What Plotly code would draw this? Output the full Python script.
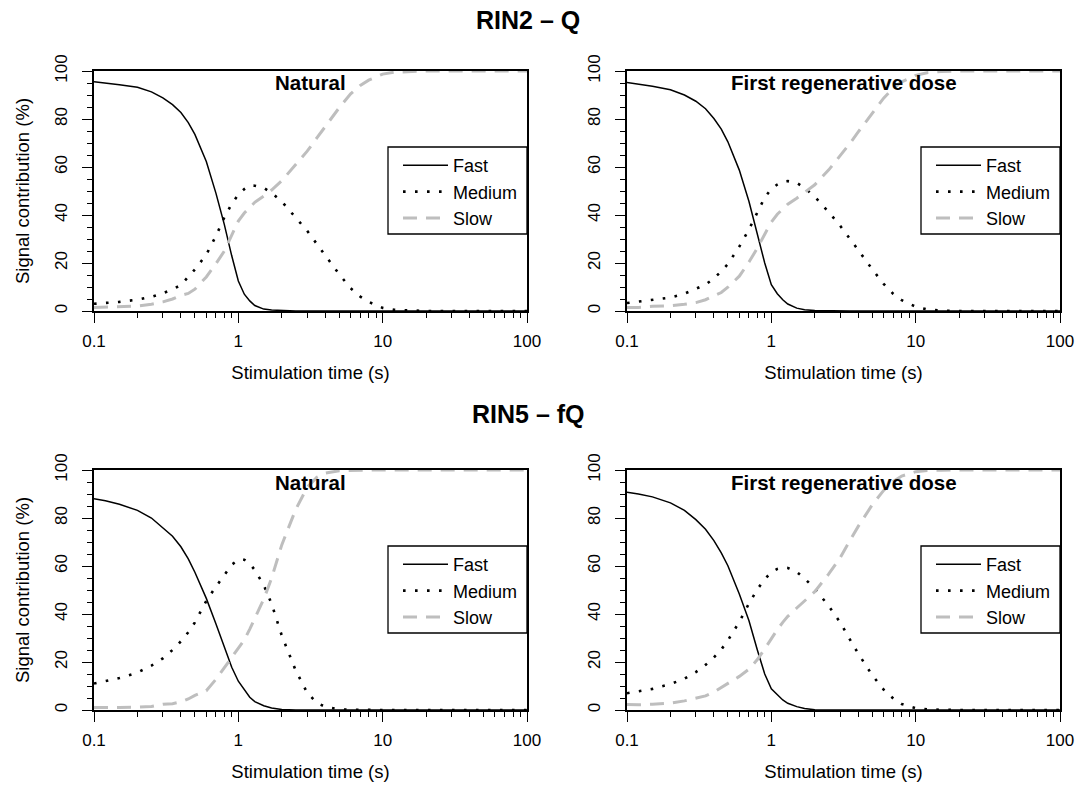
import plotly.graph_objects as go

# ---------------- data ----------------
t = [0.1, 0.12, 0.15, 0.2, 0.25, 0.3, 0.35, 0.4, 0.45, 0.5, 0.6, 0.7, 0.8, 0.9,
     1.0, 1.1, 1.2, 1.3, 1.5, 1.7, 2.0, 2.5, 3.0, 3.5, 4.0, 5.0, 6.0, 7.0, 8.0, 10, 12, 15, 20, 50, 100]

# RIN2 - Q, Natural
q_nat_fast = [95.5, 95.0, 94.3, 93.2, 91.3, 88.8, 86.0, 82.7, 78.5, 73.6, 62.3, 49.0, 36.0, 23.0,
              12.5, 7.0, 4.2, 2.3, 0.8, 0.4, 0.1, 0, 0, 0, 0, 0, 0, 0, 0, 0, 0, 0, 0, 0, 0]
q_nat_med = [3.0, 3.3, 3.8, 4.7, 5.9, 7.4, 9.0, 10.8, 14.2, 17.3, 23.5, 31.3, 39.0, 44.7,
             48.5, 50.8, 52.3, 52.2, 51.3, 49.2, 45.6, 39.0, 33.4, 27.9, 23.2, 15.3, 9.5, 6.0, 3.8, 1.3, 0.5, 0.15, 0, 0, 0]
q_nat_slow = [1.5, 1.7, 1.9, 2.1, 2.8, 3.8, 5.0, 6.5, 7.3, 9.1, 14.2, 19.7, 25.0, 31.8,
              37.5, 40.8, 43.3, 45.3, 47.9, 50.4, 54.3, 61.0, 66.6, 72.1, 76.8, 84.7, 90.5, 94.0, 96.2, 98.7, 99.5, 99.85, 100, 100, 100]

# RIN2 - Q, First regenerative dose
q_reg_fast = [95.2, 94.6, 93.6, 92.2, 90.0, 87.4, 84.3, 80.2, 75.8, 70.5, 58.7, 45.6, 32.4, 20.0,
              11.0, 7.2, 4.7, 2.9, 1.2, 0.5, 0.2, 0, 0, 0, 0, 0, 0, 0, 0, 0, 0, 0, 0, 0, 0]
q_reg_med = [3.3, 3.9, 4.4, 5.6, 7.2, 9.1, 11.0, 13.6, 16.5, 19.6, 26.8, 34.0, 41.4, 47.3,
             50.9, 52.7, 53.9, 54.1, 53.4, 51.3, 47.6, 41.2, 35.5, 30.2, 25.4, 17.4, 11.3, 7.1, 4.5, 1.8, 0.7, 0.2, 0, 0, 0]
q_reg_slow = [1.5, 1.5, 2.0, 2.2, 2.8, 3.5, 4.7, 6.2, 7.7, 9.9, 14.5, 20.4, 26.2, 32.0,
              37.0, 40.3, 42.6, 44.5, 47.0, 49.3, 52.6, 58.8, 64.5, 69.8, 74.6, 82.6, 88.7, 92.9, 95.5, 98.2, 99.3, 99.8, 100, 100, 100]

# RIN5 - fQ, Natural
fq_nat_fast = [88.0, 87.2, 85.7, 83.2, 80.0, 76.1, 72.4, 68.0, 63.0, 57.4, 46.5, 35.8, 26.1, 17.8,
               12.0, 8.2, 5.3, 3.5, 1.8, 0.8, 0.2, 0, 0, 0, 0, 0, 0, 0, 0, 0, 0, 0, 0, 0, 0]
fq_nat_med = [11.0, 11.9, 13.3, 15.6, 18.5, 21.5, 25.0, 28.6, 32.4, 36.5, 45.5, 51.4, 56.3, 60.5,
              62.6, 62.6, 61.0, 58.3, 52.0, 44.3, 31.0, 16.4, 7.2, 3.0, 1.3, 0.3, 0.1, 0, 0, 0, 0, 0, 0, 0, 0]
fq_nat_slow = [1.0, 0.9, 1.0, 1.2, 1.5, 2.4, 2.6, 3.4, 4.6, 6.1, 8.0, 12.8, 17.6, 21.7,
               25.4, 29.2, 33.7, 38.2, 46.2, 54.9, 68.8, 83.6, 92.8, 97.0, 98.7, 99.7, 99.9, 100, 100, 100, 100, 100, 100, 100, 100]

# RIN5 - fQ, First regenerative dose
fq_reg_fast = [90.7, 90.0, 88.8, 86.3, 83.2, 79.3, 75.3, 70.6, 65.5, 60.1, 48.3, 37.2, 25.0, 15.0,
               8.8, 6.2, 4.2, 2.8, 1.4, 0.6, 0.1, 0, 0, 0, 0, 0, 0, 0, 0, 0, 0, 0, 0, 0, 0]
fq_reg_med = [7.0, 7.8, 8.8, 10.8, 13.0, 15.8, 18.8, 21.9, 25.2, 29.0, 36.7, 44.4, 50.3, 54.5,
              57.4, 58.8, 59.4, 59.2, 57.5, 54.8, 50.6, 43.3, 36.5, 29.4, 23.5, 14.5, 8.5, 4.8, 2.5, 0.7, 0.25, 0.1, 0, 0, 0]
fq_reg_slow = [2.3, 2.2, 2.4, 2.9, 3.8, 4.9, 5.9, 7.5, 9.3, 10.9, 14.0, 17.0, 21.0, 25.5,
               30.0, 33.5, 36.5, 39.0, 42.5, 45.5, 49.3, 56.7, 63.5, 70.6, 76.5, 85.5, 91.5, 95.2, 97.5, 99.3, 99.75, 99.9, 100, 100, 100]

series_names = ["Fast", "Medium", "Slow"]
panel_titles = ["Natural", "First regenerative dose", "Natural", "First regenerative dose"]
main_titles = ["RIN2 – Q", "RIN5 – fQ"]
x_tickvals = [0.1, 1, 10, 100]
x_ticktext = ["0.1", "1", "10", "100"]
y_tickvals = [0, 20, 40, 60, 80, 100]
x_title = "Stimulation time (s)"
y_title = "Signal contribution (%)"

panels = [
    (q_nat_fast, q_nat_med, q_nat_slow),
    (q_reg_fast, q_reg_med, q_reg_slow),
    (fq_nat_fast, fq_nat_med, fq_nat_slow),
    (fq_reg_fast, fq_reg_med, fq_reg_slow),
]

# ---------------- layout geometry ----------------
W, H = 1076, 788
FONT = "Liberation Sans, Arial, Helvetica, sans-serif"

def px(x):
    return x / W

def py(y):
    return 1 - y / H

col_px = [(94, 527), (627, 1060)]
row_px = [(71, 311), (470, 710)]

styles = [
    dict(color="black", width=1.5, dash="solid"),
    dict(color="black", width=2.6, dash="2.6px,9.4px"),
    dict(color="#BEBEBE", width=3, dash="14px,9px"),
]

fig = go.Figure()
minor_x = [v * d for d in (0.1, 1, 10) for v in range(2, 10)]

for i, data in enumerate(panels):
    r, c = divmod(i, 2)
    n = i + 1
    xa = "x" if n == 1 else f"x{n}"
    ya = "y" if n == 1 else f"y{n}"
    lg = "legend" if n == 1 else f"legend{n}"
    for name, vals, st in zip(series_names, data, styles):
        fig.add_trace(go.Scatter(
            x=t, y=vals, mode="lines", name=name, line=st,
            xaxis=xa, yaxis=ya, legend=lg, showlegend=True,
            hoverinfo="skip",
        ))
    x0, x1 = col_px[c]
    y0, y1 = row_px[r]
    xkey = "xaxis" if n == 1 else f"xaxis{n}"
    ykey = "yaxis" if n == 1 else f"yaxis{n}"
    fig.layout[xkey] = dict(
        type="log", range=[-1, 2], domain=[px(x0), px(x1)], anchor=ya,
        automargin=False,
        showline=True, mirror=True, linecolor="black", linewidth=1.5,
        ticks="outside", ticklen=10, tickwidth=1.3, tickcolor="black",
        tickmode="array", tickvals=x_tickvals, ticktext=x_ticktext,
        ticklabelstandoff=4,
        minor=dict(ticks="outside", ticklen=5, tickwidth=1.3, tickcolor="black",
                   tickmode="array", tickvals=minor_x),
        showgrid=False, zeroline=False,
        tickfont=dict(family=FONT, size=17, color="black"),
        title=dict(text=x_title, font=dict(family=FONT, size=18.5, color="black"), standoff=16),
    )
    fig.layout[ykey] = dict(
        range=[0, 100], domain=[py(y1), py(y0)], anchor=xa,
        automargin=False,
        showline=True, mirror=True, linecolor="black", linewidth=1.5,
        ticks="outside", ticklen=10, tickwidth=1.3, tickcolor="black",
        tickmode="array", tickvals=y_tickvals, tickangle=-90,
        ticklabelstandoff=8,
        minor=dict(ticks="outside", ticklen=5, tickwidth=1.3, tickcolor="black", dtick=5),
        showgrid=False, zeroline=False,
        tickfont=dict(family=FONT, size=17, color="black"),
        title=dict(text=y_title if c == 0 else "",
                   font=dict(family=FONT, size=18.5, color="black"), standoff=18),
    )
    # legend box (frame drawn as a shape, entries by the native legend)
    lx0, lx1 = x1 - 139, x1
    ly0, ly1 = y0 + 76, y0 + 163
    fig.add_shape(type="rect", xref="paper", yref="paper",
                  x0=px(lx0), x1=px(lx1), y0=py(ly1), y1=py(ly0),
                  line=dict(color="black", width=1.3), fillcolor="rgba(0,0,0,0)",
                  layer="above")
    fig.layout[lg] = dict(
        x=px(lx0 + 10), y=py(ly0), xanchor="left", yanchor="top",
        bgcolor="rgba(0,0,0,0)", borderwidth=0,
        font=dict(family=FONT, size=18, color="black"),
        itemwidth=45, tracegroupgap=0,
    )
    fig.add_annotation(
        x=(px(x0) + px(x1)) / 2, y=py(y0 + 12), xref="paper", yref="paper",
        text=f"<b>{panel_titles[i]}</b>", showarrow=False,
        font=dict(family=FONT, size=20.5, color="black"),
        xanchor="center", yanchor="middle",
    )

for r, txt in enumerate(main_titles):
    fig.add_annotation(
        x=px(528), y=py([20, 414][r]), xref="paper", yref="paper",
        text=f"<b>{txt}</b>", showarrow=False,
        font=dict(family=FONT, size=25, color="black"),
        xanchor="center", yanchor="middle",
    )

fig.update_layout(
    width=W, height=H, margin=dict(l=0, r=0, t=0, b=0),
    paper_bgcolor="white", plot_bgcolor="white",
    font=dict(family=FONT, color="black"),
)

fig.write_html(
    "out.html",
    config={"displayModeBar": False},
    post_script="document.body.style.margin='0';document.body.style.overflow='hidden';",
)
